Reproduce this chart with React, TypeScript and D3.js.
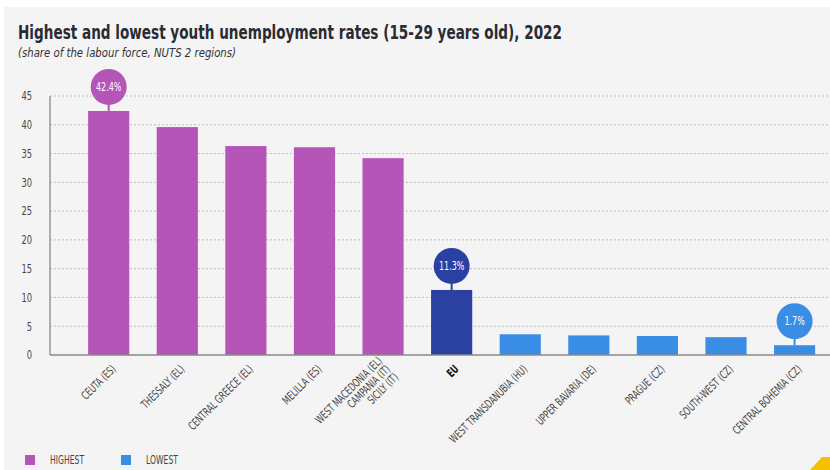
import React from "react";
import * as d3 from "d3";

const categories: string[][] = [
  ["CEUTA (ES)"],
  ["THESSALY (EL)"],
  ["CENTRAL GREECE (EL)"],
  ["MELILLA (ES)"],
  ["WEST MACEDONIA (EL)", "CAMPANIA (IT)", "SICILY (IT)"],
  ["EU"],
  ["WEST TRANSDANUBIA (HU)"],
  ["UPPER BAVARIA (DE)"],
  ["PRAGUE (CZ)"],
  ["SOUTH-WEST (CZ)"],
  ["CENTRAL BOHEMIA (CZ)"],
];
const values: number[] = [42.4, 39.6, 36.3, 36.1, 34.2, 11.3, 3.6, 3.4, 3.3, 3.1, 1.7];
const groups: string[] = ["high", "high", "high", "high", "high", "eu", "low", "low", "low", "low", "low"];
const labelled: boolean[] = [true, false, false, false, false, true, false, false, false, false, true];
const yTicks: number[] = [0, 5, 10, 15, 20, 25, 30, 35, 40, 45];
const legendItems: { key: string; label: string }[] = [
  { key: "high", label: "HIGHEST" },
  { key: "low", label: "LOWEST" },
];

const colors: Record<string, string> = { high: "#b455b7", eu: "#2a41a1", low: "#3a8de4" };
const FONT = "'DejaVu Sans Condensed', 'DejaVu Sans', sans-serif";
const SX = 0.74;

export default function App() {
  const W = 830, H = 470;
  const x0 = 50, x1 = 830, yBase = 355, yTop = 96;
  const keys = categories.map((_, i) => String(i));
  const x = d3.scaleBand<string>().domain(keys).range([x0, x1]).paddingInner(0.4).paddingOuter(0.386).align(0.72);
  const y = d3.scaleLinear().domain([0, 45]).range([yBase, yTop]);
  const bw = x.bandwidth();

  return (
    <div style={{ position: "absolute", left: 0, top: 0 }}>
      <svg width={W} height={H} style={{ display: "block" }}>
        <rect x={0} y={0} width={W} height={H} fill="#ffffff" />
        <rect x={4} y={7} width={W - 4} height={H - 7} fill="#f4f4f4" />
        <text x={18} y={39} fontFamily={FONT} fontWeight="bold" fontSize={19.5} fill="#2b2b33"
          textLength={544} lengthAdjust="spacingAndGlyphs">
          Highest and lowest youth unemployment rates (15-29 years old), 2022
        </text>
        <text x={18} y={57} fontFamily={FONT} fontStyle="italic" fontSize={12.5} fill="#333"
          textLength={218} lengthAdjust="spacingAndGlyphs">
          (share of the labour force, NUTS 2 regions)
        </text>
        {yTicks.map((t) => (
          <g key={t}>
            {t > 0 && (
              <line x1={x0} x2={x1} y1={y(t)} y2={y(t)} stroke="#bdbdbd" strokeWidth={1} strokeDasharray="2,2" />
            )}
            <g transform={`translate(32,${y(t)}) scale(${SX},1)`}>
              <text x={0} y={0} dy="0.35em" textAnchor="end" fontFamily={FONT} fontSize={12.5} fill="#444">
                {t}
              </text>
            </g>
          </g>
        ))}
        {values.map((v, i) => (
          <rect key={i} x={x(String(i))} y={y(v)} width={bw} height={yBase - y(v)} fill={colors[groups[i]]} />
        ))}
        <line x1={x0} x2={x0} y1={yTop} y2={yBase} stroke="#8a8a8a" strokeWidth={1.3} />
        <line x1={x0} x2={x1} y1={yBase} y2={yBase} stroke="#8a8a8a" strokeWidth={1.3} />
        {values.map((v, i) => {
          if (!labelled[i]) return null;
          const cx = (x(String(i)) as number) + bw / 2;
          const top = y(v);
          const cy = top - 24;
          return (
            <g key={"lab" + i}>
              <line x1={cx} x2={cx} y1={cy} y2={top} stroke={colors[groups[i]]} strokeWidth={2} />
              <circle cx={cx} cy={cy} r={18} fill={colors[groups[i]]} />
              <g transform={`translate(${cx},${cy}) scale(${SX},1)`}>
                <text x={0} y={0} dy="0.35em" textAnchor="middle" fontFamily={FONT} fontSize={12} fill="#fff">
                  {d3.format(".1f")(v) + "%"}
                </text>
              </g>
            </g>
          );
        })}
        {categories.map((lines, i) => {
          const cx = (x(String(i)) as number) + bw / 2;
          const n = lines.length;
          return (
            <g key={"xl" + i} transform={`translate(${cx + 5},${yBase + 12}) rotate(-45) scale(${SX},1)`}>
              {lines.map((ln, j) => (
                <text
                  key={j}
                  x={0}
                  y={(j - (n - 1) / 2) * 11.5}
                  dy="0.35em"
                  textAnchor="end"
                  fontFamily={FONT}
                  fontSize={11.5}
                  fontWeight={groups[i] === "eu" ? "bold" : "normal"}
                  fill={groups[i] === "eu" ? "#111" : "#444"}
                >
                  {ln}
                </text>
              ))}
            </g>
          );
        })}
        {legendItems.map((it, i) => (
          <g key={it.key} transform={`translate(${25 + i * 96},460)`}>
            <rect x={0} y={-5} width={10} height={10} fill={colors[it.key]} />
            <g transform={`translate(25,0) scale(${SX},1)`}>
              <text x={0} y={0} dy="0.35em" fontFamily={FONT} fontSize={11.5} fill="#444">
                {it.label}
              </text>
            </g>
          </g>
        ))}
        <polygon points="810,470 822,457 830,457 830,470" fill="#f6c100" />
      </svg>
    </div>
  );
}
